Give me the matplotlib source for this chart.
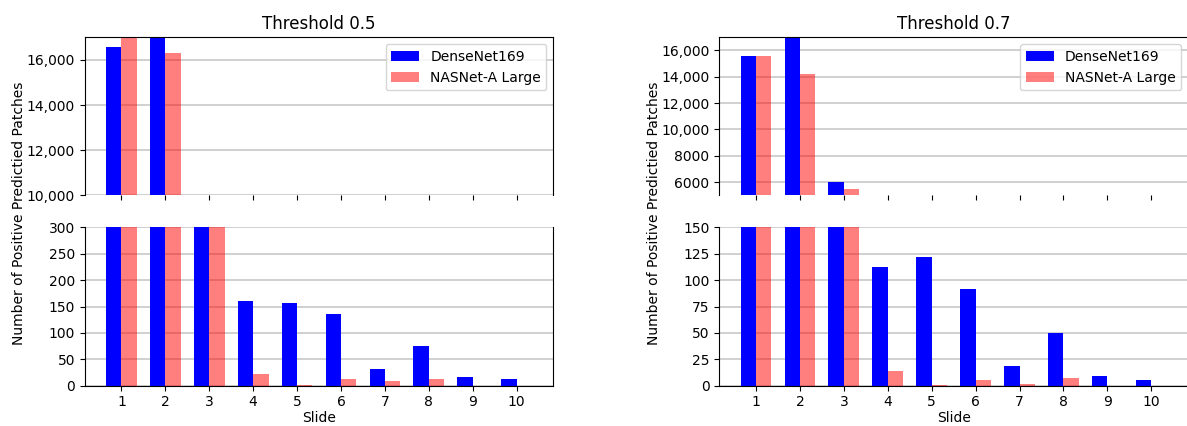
import matplotlib
matplotlib.use('Agg')
import matplotlib.pyplot as plt
import matplotlib.ticker as mticker
import numpy as np

slides = [1, 2, 3, 4, 5, 6, 7, 8, 9, 10]

# threshold 0.5
dense_05 = [16550, 17500, 7800, 160, 156, 135, 32, 76, 16, 13]
nasnet_05 = [17300, 16300, 7000, 22, 2, 13, 8, 13, 0, 0]

# threshold 0.7
dense_07 = [15600, 17200, 5980, 112, 122, 92, 19, 50, 9, 5]
nasnet_07 = [15600, 14200, 5470, 14, 1, 5, 2, 7, 0, 0]

titles = ['Threshold 0.5', 'Threshold 0.7']
top_ylims = [(10000, 17000), (5000, 17000)]
top_ticks = [np.arange(10000, 17000, 2000), np.arange(6000, 17000, 2000)]
bottom_ylims = [(0, 300), (0, 150)]
bottom_ticks = [np.arange(0, 301, 50), np.arange(0, 151, 25)]

plt.rcParams['font.size'] = 10
width = 0.35


def thousands(v, pos):
    # the original shows commas only from 10,000 up
    if v >= 10000:
        return f'{v:,.0f}'
    return f'{v:.0f}'


fig = plt.figure(figsize=(11.87, 4.26), dpi=100)

lefts = [0.0714, 0.606]
w = 0.3948
for i, (dense, nasnet) in enumerate([(dense_05, nasnet_05), (dense_07, nasnet_07)]):
    ax_top = fig.add_axes([lefts[i], 0.5415, w, 0.3709])
    ax_bot = fig.add_axes([lefts[i], 0.0946, w, 0.3718], sharex=ax_top)
    x = np.array(slides)
    for ax in (ax_top, ax_bot):
        ax.bar(x - width / 2, dense, width, color='blue', label='DenseNet169')
        ax.bar(x + width / 2, nasnet, width, color='red', alpha=0.5, label='NASNet-A Large')
        ax.yaxis.grid(True, color='#c8c8c8', linewidth=1.2)
        ax.set_axisbelow(True)

    ax_top.set_ylim(*top_ylims[i])
    ax_top.set_yticks(top_ticks[i])
    ax_bot.set_ylim(*bottom_ylims[i])
    ax_bot.set_yticks(bottom_ticks[i])
    ax_top.yaxis.set_major_formatter(mticker.FuncFormatter(thousands))

    ax_top.spines['bottom'].set_visible(False)
    ax_bot.spines['top'].set_visible(False)
    ax_top.tick_params(axis='x', labelbottom=False)
    ax_bot.set_xticks(slides)
    ax_bot.set_xlabel('Slide', labelpad=1)

    ax_top.set_title(titles[i], fontsize=12)
    ax_top.legend(loc='upper right')

    fig.text(lefts[i] - 0.055, 0.5, 'Number of Positive Predictied Patches',
             rotation=90, va='center', ha='center')

fig.savefig('out.png', dpi=100)
